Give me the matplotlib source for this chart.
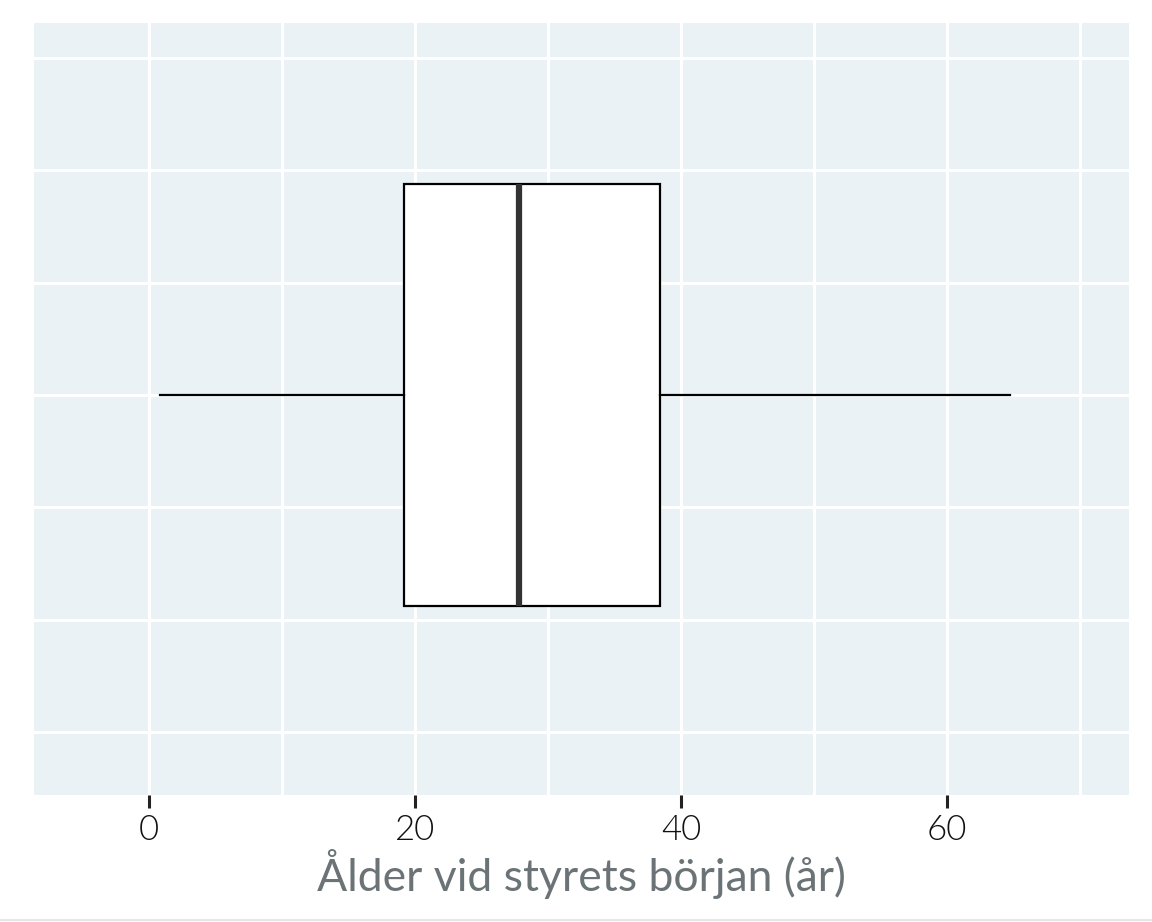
import matplotlib
matplotlib.use("Agg")
import matplotlib.pyplot as plt
from matplotlib.lines import Line2D

# Data
whisker_low = 0.8
q1 = 19.2
median = 27.8
q3 = 38.4
whisker_high = 64.7
x_ticks = [0, 20, 40, 60]
x_minor = [10, 30, 50, 70]
x_label = "Ålder vid styrets början (år)"

plt.rcParams['font.family'] = ['Lato', 'DejaVu Sans']

fig = plt.figure(figsize=(11.52, 9.22), dpi=100)
ax = fig.add_axes([34/1152, 1-795/922, (1129-34)/1152, (795-23)/922])
ax.set_facecolor('#EAF2F6')

stats = [dict(whislo=whisker_low, q1=q1, med=median, q3=q3, whishi=whisker_high, fliers=[])]
ax.bxp(stats, positions=[0], widths=3.76, orientation='horizontal', showcaps=False,
       patch_artist=True,
       boxprops=dict(facecolor='white', edgecolor='black', linewidth=1.6),
       medianprops=dict(color='#333333', linewidth=4.5, solid_capstyle='butt'),
       whiskerprops=dict(color='black', linewidth=1.6), zorder=3)

ax.set_xlim(-8.65, 73.68)
ax.set_ylim(-3.56, 3.31)
ax.set_xticks(x_ticks)
ax.set_xticks(x_minor, minor=True)
ax.set_yticks([-3, -2, -1, 0, 1, 2, 3])
ax.set_yticklabels([])
ax.tick_params(axis='y', length=0)
ax.tick_params(axis='x', which='major', length=9, width=2.2, color='#222222',
               labelsize=25, labelcolor='#111111', pad=5)
ax.tick_params(axis='x', which='minor', length=0)
for lab in ax.get_xticklabels():
    lab.set_fontweight(300)
ax.grid(True, which='both', color='white', linewidth=2.2, zorder=0)
ax.set_axisbelow(True)
for s in ax.spines.values():
    s.set_visible(False)
ax.set_xlabel(x_label, fontsize=32, color='#6b7377', labelpad=2)

fig.add_artist(Line2D([0, 1], [1-920/922, 1-920/922], color='#e6e6e6', linewidth=1.5))

fig.savefig("out.png", dpi=100)
